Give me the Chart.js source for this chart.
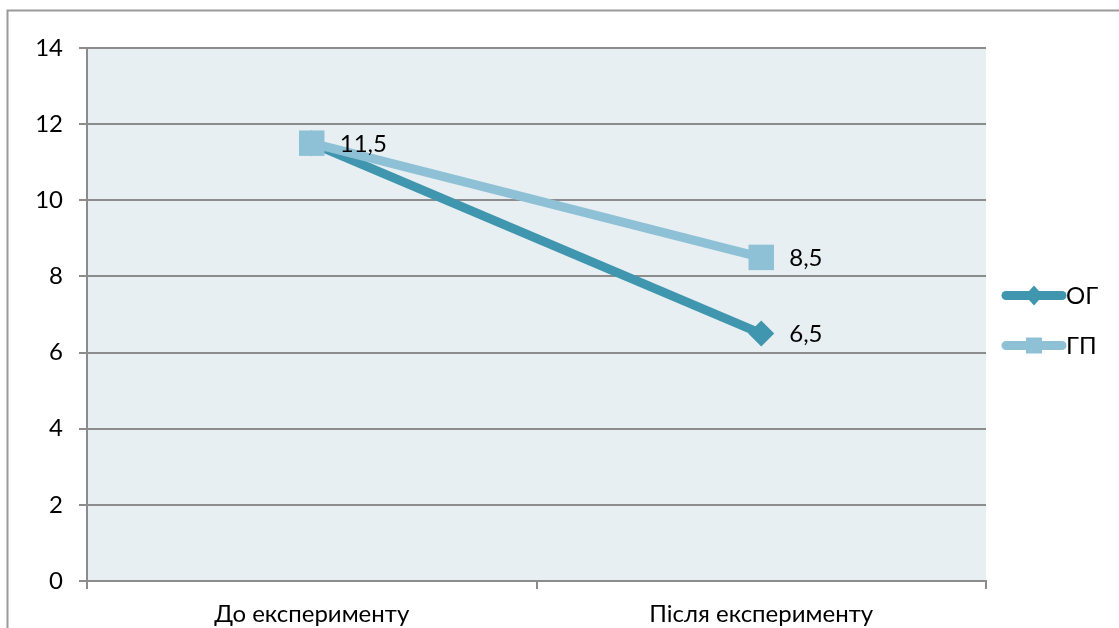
<!DOCTYPE html>
<html lang="uk">
<head>
<meta charset="utf-8">
<title>ОГ / ГП</title>
<script src="https://cdn.jsdelivr.net/npm/chart.js@4/dist/chart.umd.min.js"></script>
<style>
  html, body { margin: 0; padding: 0; background: #ffffff; }
  canvas { display: block; }
</style>
</head>
<body>
<canvas id="chart" width="1119" height="628"></canvas>
<script>
// Categories and series values
const categories = ['До експерименту', 'Після експерименту'];
const seriesNames = ['ОГ', 'ГП'];
const ogValues = [11.5, 6.5];
const gpValues = [11.5, 8.5];
const yTicks = [0, 2, 4, 6, 8, 10, 12, 14];

const FONT = 'Lato, "Open Sans", sans-serif';
const FONT_SIZE = 24;
const OG_COLOR = '#4096ae';
const GP_COLOR = '#8ec1d5';
const GRID_COLOR = '#8c8c8c';

// Plot area background
const plotBackground = {
  id: 'plotBackground',
  beforeDraw(chart) {
    const { ctx, chartArea: a } = chart;
    ctx.save();
    ctx.fillStyle = '#e8eff3';
    ctx.fillRect(a.left, a.top, a.right - a.left, a.bottom - a.top);
    ctx.restore();
  }
};

// Outer frame (left and top edges)
const outerFrame = {
  id: 'outerFrame',
  afterDraw(chart) {
    const { ctx, width, height } = chart;
    ctx.save();
    ctx.strokeStyle = '#9a9a9a';
    ctx.lineWidth = 2;
    ctx.beginPath();
    ctx.moveTo(7.5, height);
    ctx.lineTo(7.5, 10.5);
    ctx.lineTo(width, 10.5);
    ctx.stroke();
    ctx.restore();
  }
};

// Value labels to the right of each point
const valueLabels = {
  id: 'valueLabels',
  afterDatasetsDraw(chart) {
    const { ctx } = chart;
    ctx.save();
    ctx.font = FONT_SIZE + 'px ' + FONT;
    ctx.fillStyle = '#000000';
    ctx.textAlign = 'left';
    ctx.textBaseline = 'middle';
    const drawn = new Set();
    chart.data.datasets.forEach((ds, di) => {
      const meta = chart.getDatasetMeta(di);
      meta.data.forEach((pt, i) => {
        const key = Math.round(pt.x) + ':' + Math.round(pt.y);
        if (drawn.has(key)) return;
        drawn.add(key);
        const text = String(ds.data[i]).replace('.', ',');
        ctx.fillText(text, pt.x + 28, pt.y + 1);
      });
    });
    ctx.restore();
  }
};

// Legend on the right: line with marker, then series name
const sideLegend = {
  id: 'sideLegend',
  afterDraw(chart) {
    const { ctx, chartArea: a } = chart;
    const x0 = a.right + 20;
    const x1 = a.right + 76;
    const xm = (x0 + x1) / 2;
    const yMid = (a.top + a.bottom) / 2 + 6;
    ctx.save();
    chart.data.datasets.forEach((ds, i) => {
      const y = yMid - 25 + i * 50;
      ctx.strokeStyle = ds.borderColor;
      ctx.lineWidth = 9;
      ctx.lineCap = 'round';
      ctx.beginPath();
      ctx.moveTo(x0, y);
      ctx.lineTo(x1, y);
      ctx.stroke();
      ctx.fillStyle = ds.pointBackgroundColor;
      ctx.beginPath();
      if (ds.pointStyle === 'rectRot') {
        ctx.moveTo(xm, y - 10);
        ctx.lineTo(xm + 9, y);
        ctx.lineTo(xm, y + 10);
        ctx.lineTo(xm - 9, y);
        ctx.closePath();
      } else {
        ctx.rect(xm - 8, y - 8, 16, 16);
      }
      ctx.fill();
      ctx.fillStyle = '#000000';
      ctx.font = FONT_SIZE + 'px ' + FONT;
      ctx.textAlign = 'left';
      ctx.textBaseline = 'middle';
      ctx.fillText(ds.label, x1 + 4, y + 1);
    });
    ctx.restore();
  }
};

new Chart(document.getElementById('chart'), {
  type: 'line',
  data: {
    labels: categories,
    datasets: [
      {
        label: seriesNames[0],
        data: ogValues,
        borderColor: OG_COLOR,
        backgroundColor: OG_COLOR,
        pointBackgroundColor: OG_COLOR,
        pointBorderColor: OG_COLOR,
        borderWidth: 9,
        pointStyle: 'rectRot',
        pointRadius: 13,
        pointBorderWidth: 0,
        tension: 0,
        order: 1
      },
      {
        label: seriesNames[1],
        data: gpValues,
        borderColor: GP_COLOR,
        backgroundColor: GP_COLOR,
        pointBackgroundColor: GP_COLOR,
        pointBorderColor: GP_COLOR,
        borderWidth: 9,
        pointStyle: 'rect',
        pointRadius: 18,
        pointBorderWidth: 0,
        tension: 0,
        order: 0
      }
    ]
  },
  options: {
    responsive: false,
    animation: false,
    events: [],
    layout: { padding: { top: 48, right: 133, left: 0, bottom: 0 } },
    plugins: {
      legend: { display: false },
      tooltip: { enabled: false }
    },
    scales: {
      x: {
        offset: true,
        afterFit(scale) { scale.height = 47; },
        grid: {
          offset: true,
          drawOnChartArea: false,
          drawTicks: true,
          tickLength: 8,
          color: GRID_COLOR,
          lineWidth: 2
        },
        border: { display: true, color: GRID_COLOR, width: 2 },
        ticks: {
          color: '#000000',
          font: { family: FONT, size: FONT_SIZE },
          padding: 11,
          maxRotation: 0
        }
      },
      y: {
        min: 0,
        max: 14,
        afterFit(scale) { scale.width = 87; },
        afterBuildTicks(scale) { scale.ticks = yTicks.map(v => ({ value: v })); },
        grid: {
          color: GRID_COLOR,
          lineWidth: 2,
          drawTicks: true,
          tickLength: 8
        },
        border: { display: true, color: GRID_COLOR, width: 2 },
        ticks: {
          color: '#000000',
          font: { family: FONT, size: FONT_SIZE },
          padding: 16
        }
      }
    }
  },
  plugins: [plotBackground, valueLabels, sideLegend, outerFrame]
});
</script>
</body>
</html>
